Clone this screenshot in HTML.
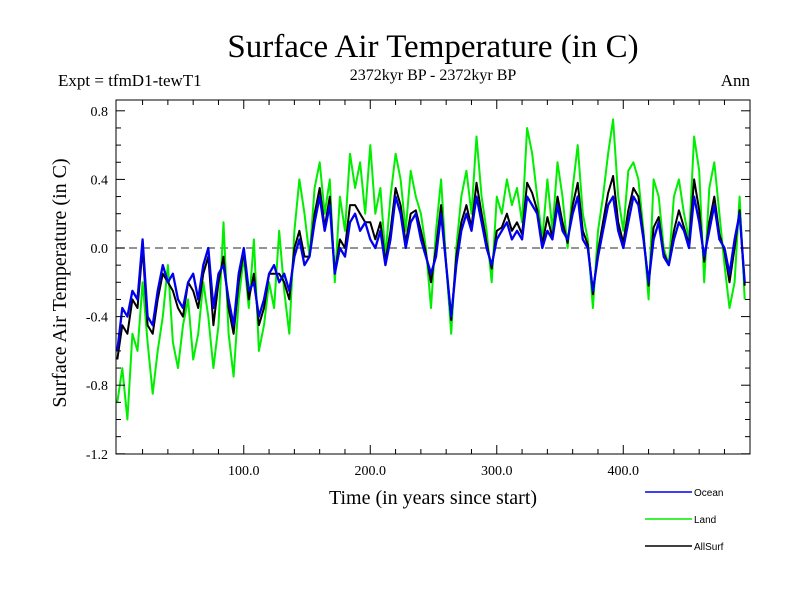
<!DOCTYPE html>
<html><head><meta charset="utf-8"><style>
body{margin:0;background:#fff;}
svg text{font-family:"Liberation Serif",serif;}
</style></head><body>
<svg id="chart" width="800" height="600" xmlns="http://www.w3.org/2000/svg">
<text x="433" y="57" font-size="33" text-anchor="middle">Surface Air Temperature (in C)</text>
<text x="58" y="86" font-size="17">Expt = tfmD1-tewT1</text>
<text x="433" y="80" font-size="16" text-anchor="middle">2372kyr BP - 2372kyr BP</text>
<text x="750" y="86" font-size="17" text-anchor="end">Ann</text>
<text x="0" y="0" font-size="20" text-anchor="middle" transform="translate(66,283) rotate(-90)">Surface Air Temperature (in C)</text>
<text x="433" y="504" font-size="20" text-anchor="middle">Time (in years since start)</text>
<g id="plot"></g>
<g id="legend"></g>
</svg>
<script>
const years = [];
for (let t = 0; t <= 496; t += 4) years.push(t);
const ocean = [-0.6,-0.35,-0.4,-0.25,-0.3,0.05,-0.4,-0.45,-0.25,-0.1,-0.2,-0.15,-0.3,-0.35,-0.2,-0.15,-0.3,-0.1,0.0,-0.35,-0.15,-0.1,-0.3,-0.45,-0.15,0.0,-0.25,-0.2,-0.4,-0.3,-0.15,-0.1,-0.2,-0.15,-0.25,-0.05,0.05,-0.1,-0.05,0.15,0.3,0.1,0.25,-0.15,0.0,-0.05,0.15,0.2,0.1,0.15,0.05,0.0,0.1,-0.1,0.05,0.3,0.2,0.0,0.15,0.2,0.05,-0.05,-0.15,-0.05,0.2,-0.1,-0.4,-0.1,0.1,0.2,0.1,0.3,0.15,0.0,-0.1,0.05,0.1,0.15,0.05,0.1,0.05,0.3,0.25,0.2,0.0,0.1,0.05,0.25,0.1,0.05,0.2,0.3,0.05,0.0,-0.25,-0.05,0.1,0.25,0.3,0.1,0.0,0.15,0.3,0.25,0.05,-0.2,0.05,0.15,-0.05,-0.1,0.05,0.15,0.1,0.0,0.3,0.15,-0.05,0.1,0.25,0.05,0.0,-0.15,0.05,0.2,-0.2];
const land = [-0.9,-0.7,-1.0,-0.5,-0.6,-0.2,-0.55,-0.85,-0.6,-0.4,-0.1,-0.55,-0.7,-0.45,-0.3,-0.65,-0.5,-0.2,-0.4,-0.7,-0.45,0.15,-0.5,-0.75,-0.3,-0.05,-0.35,0.05,-0.6,-0.45,-0.2,-0.35,0.1,-0.25,-0.5,0.1,0.4,0.2,-0.05,0.35,0.5,0.2,0.4,-0.2,0.3,0.1,0.55,0.35,0.5,0.2,0.6,0.2,0.35,-0.05,0.3,0.55,0.4,0.1,0.45,0.3,0.2,0.0,-0.35,0.1,0.4,-0.1,-0.5,0.0,0.3,0.45,0.2,0.65,0.3,0.1,-0.2,0.3,0.2,0.4,0.25,0.35,0.15,0.7,0.55,0.3,0.05,0.4,0.1,0.5,0.3,0.0,0.35,0.6,0.2,0.05,-0.35,0.1,0.3,0.55,0.75,0.3,0.1,0.45,0.5,0.4,0.1,-0.3,0.4,0.3,0.0,-0.1,0.3,0.4,0.2,0.05,0.65,0.45,-0.2,0.35,0.5,0.2,-0.1,-0.35,-0.2,0.3,-0.3];
const allsurf = [-0.65,-0.45,-0.5,-0.3,-0.35,0.0,-0.45,-0.5,-0.3,-0.15,-0.2,-0.25,-0.35,-0.4,-0.2,-0.25,-0.35,-0.15,-0.05,-0.45,-0.2,-0.05,-0.35,-0.5,-0.2,-0.02,-0.3,-0.15,-0.45,-0.35,-0.15,-0.15,-0.15,-0.2,-0.3,0.0,0.1,-0.05,-0.05,0.2,0.35,0.12,0.3,-0.15,0.05,0.0,0.25,0.25,0.2,0.15,0.15,0.05,0.15,-0.08,0.1,0.35,0.25,0.03,0.2,0.22,0.1,-0.03,-0.2,0.0,0.25,-0.1,-0.42,-0.05,0.15,0.25,0.12,0.38,0.2,0.03,-0.12,0.1,0.12,0.2,0.1,0.15,0.08,0.38,0.32,0.22,0.02,0.18,0.06,0.3,0.15,0.03,0.25,0.38,0.1,0.02,-0.27,-0.02,0.15,0.32,0.42,0.15,0.03,0.22,0.35,0.3,0.07,-0.22,0.12,0.18,-0.03,-0.1,0.1,0.22,0.12,0.02,0.4,0.22,-0.08,0.15,0.3,0.08,-0.02,-0.2,0.0,0.22,-0.22];
const yTicks = [0.8,0.4,0.0,-0.4,-0.8,-1.2];
const yTickLabels = ["0.8","0.4","0.0","-0.4","-0.8","-1.2"];
const xTicks = [100,200,300,400];
const xTickLabels = ["100.0","200.0","300.0","400.0"];

const L=116,R=750,T=100,B=454;
const xs = t => L + (t+1)*1.265;
const ys = v => 248 - v*171.5;
const NS="http://www.w3.org/2000/svg";
const plot=document.getElementById('plot');
function mk(tag,attrs,parent){const e=document.createElementNS(NS,tag);for(const k in attrs)e.setAttribute(k,attrs[k]);(parent||plot).appendChild(e);return e;}

const z=mk('line',{x1:L,x2:R,y1:ys(0),y2:ys(0),stroke:'#555','stroke-width':1.2,'stroke-dasharray':'8,5'});



function series(vals,color,name,w){
  const d=vals.map((v,i)=>(i?'L':'M')+xs(years[i]).toFixed(1)+','+ys(v).toFixed(1)).join('');
  const p=mk('path',{d:d,fill:'none',stroke:color,'stroke-width':w,'stroke-linejoin':'round'});
  
  
}
series(land,'#00ee00','land-series',2);
series(allsurf,'#000','allsurf-series',2);
series(ocean,'#0000ee','ocean-series',2.3);

const fr=mk('rect',{x:L,y:T,width:R-L,height:B-T,fill:'none',stroke:'#000','stroke-width':1});



for(let k=-12;k<=8;k++){
  const v=k/10, y=ys(v), len=(k%4===0)?9:5;
  mk('line',{x1:L,x2:L+len,y1:y,y2:y,stroke:'#000'});
  mk('line',{x1:R,x2:R-len,y1:y,y2:y,stroke:'#000'});
}
yTicks.forEach((v,i)=>{
  const t=mk('text',{x:L-8,y:ys(v)+5,'font-size':14,'text-anchor':'end'});
  t.textContent=yTickLabels[i];
  
  
});
for(let yr=20;yr<500;yr+=20){
  const x=xs(yr), len=(yr%100===0)?9:5;
  mk('line',{x1:x,x2:x,y1:B,y2:B-len,stroke:'#000'});
  mk('line',{x1:x,x2:x,y1:T,y2:T+len,stroke:'#000'});
}
xTicks.forEach((v,i)=>{
  const t=mk('text',{x:xs(v),y:B+21,'font-size':14,'text-anchor':'middle'});
  t.textContent=xTickLabels[i];
  
  
});

const lg=document.getElementById('legend');
[['Ocean','#0000ee',492],['Land','#00ee00',519],['AllSurf','#000',546]].forEach(e=>{
  const l=mk('line',{x1:645,x2:692,y1:e[2],y2:e[2],stroke:e[1],'stroke-width':1.6},lg);
  
  
  const t=mk('text',{x:694,y:e[2]+4,'font-size':10,style:'font-family:"Liberation Sans",sans-serif'},lg);
  t.textContent=e[0];
  
  
});
</script>
</body></html>
